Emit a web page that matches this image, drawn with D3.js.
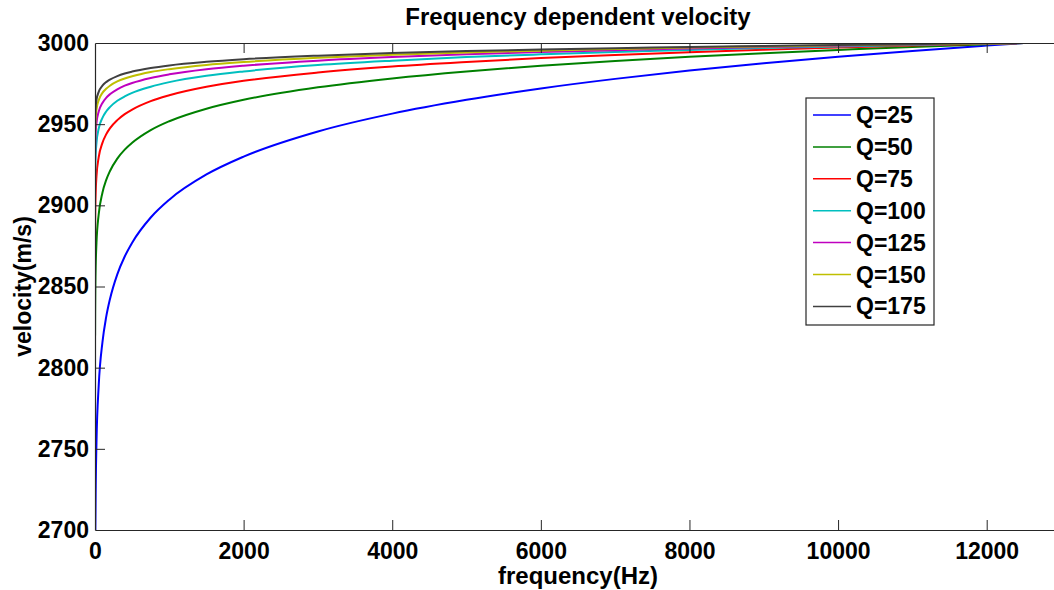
<!DOCTYPE html>
<html>
<head>
<meta charset="utf-8">
<script src="https://cdn.jsdelivr.net/npm/d3@7"></script>
<style>
  body { margin: 0; background: #fff; }
  text { font-family: "Liberation Sans", Arial, sans-serif; font-weight: bold; }
</style>
</head>
<body>
<div id="chart"></div>
<script>
// frequency samples (Hz) shared by every curve
const freqs = [1, 2, 5, 10, 20, 50, 100, 150, 200, 300, 400, 500, 750, 1000, 1500, 2000,
  3000, 4000, 5000, 6000, 7000, 8000, 9000, 10000, 11000, 12000, 12500];

const q25 = [2639.7, 2666.1, 2701.1, 2727.6, 2754.1, 2789.1, 2815.6, 2831.1, 2842.0, 2857.5, 2868.5, 2877.0, 2892.5, 2903.5, 2919.0, 2930.0,
  2945.5, 2956.5, 2965.0, 2972.0, 2977.9, 2983.0, 2987.5, 2991.5, 2995.1, 2998.4, 3000];
const q50 = [2819.8, 2833.1, 2850.6, 2863.8, 2877.0, 2894.5, 2907.8, 2915.5, 2921.0, 2928.8, 2934.3, 2938.5, 2946.3, 2951.8, 2959.5, 2965.0,
  2972.7, 2978.2, 2982.5, 2986.0, 2988.9, 2991.5, 2993.7, 2995.7, 2997.6, 2999.2, 3000];
const q75 = [2879.9, 2888.7, 2900.4, 2909.2, 2918.0, 2929.7, 2938.5, 2943.7, 2947.4, 2952.5, 2956.2, 2959.0, 2964.2, 2967.8, 2973.0, 2976.7,
  2981.8, 2985.5, 2988.3, 2990.7, 2992.6, 2994.3, 2995.8, 2997.2, 2998.4, 2999.5, 3000];
const q100 = [2909.9, 2916.5, 2925.3, 2931.9, 2938.5, 2947.3, 2953.9, 2957.8, 2960.5, 2964.4, 2967.1, 2969.3, 2973.1, 2975.9, 2979.8, 2982.5,
  2986.4, 2989.1, 2991.3, 2993.0, 2994.5, 2995.7, 2996.9, 2997.9, 2998.8, 2999.6, 3000];
const q125 = [2927.9, 2933.2, 2940.2, 2945.5, 2950.8, 2957.8, 2963.1, 2966.2, 2968.4, 2971.5, 2973.7, 2975.4, 2978.5, 2980.7, 2983.8, 2986.0,
  2989.1, 2991.3, 2993.0, 2994.4, 2995.6, 2996.6, 2997.5, 2998.3, 2999.0, 2999.7, 3000];
const q150 = [2939.9, 2944.4, 2950.2, 2954.6, 2959.0, 2964.8, 2969.3, 2971.8, 2973.7, 2976.3, 2978.1, 2979.5, 2982.1, 2983.9, 2986.5, 2988.3,
  2990.9, 2992.7, 2994.2, 2995.3, 2996.3, 2997.2, 2997.9, 2998.6, 2999.2, 2999.7, 3000];
const q175 = [2948.5, 2952.3, 2957.3, 2961.1, 2964.9, 2969.9, 2973.7, 2975.9, 2977.4, 2979.6, 2981.2, 2982.4, 2984.6, 2986.2, 2988.4, 2990.0,
  2992.2, 2993.8, 2995.0, 2996.0, 2996.8, 2997.6, 2998.2, 2998.8, 2999.3, 2999.8, 3000];

const seriesNames = ['Q=25', 'Q=50', 'Q=75', 'Q=100', 'Q=125', 'Q=150', 'Q=175'];
const seriesValues = [q25, q50, q75, q100, q125, q150, q175];
const seriesColors = ['#0000ff', '#008000', '#ff0000', '#00bfbf', '#bf00bf', '#bfbf00', '#404040'];

const xTicks = [0, 2000, 4000, 6000, 8000, 10000, 12000];
const yTicks = [2700, 2750, 2800, 2850, 2900, 2950, 3000];

const width = 1054, height = 590;
const margin = { top: 43, right: -7, bottom: 60, left: 95 };
const chartWidth = width - margin.left - margin.right;
const chartHeight = height - margin.top - margin.bottom;

const svg = d3.select('#chart').append('svg')
  .attr('width', width)
  .attr('height', height);

const g = svg.append('g')
  .attr('transform', `translate(${margin.left},${margin.top})`);

const x = d3.scaleLinear().domain([0, 13000]).range([0, chartWidth]);
const y = d3.scaleLinear().domain([2700, 3000]).range([chartHeight, 0]);

svg.append('defs').append('clipPath')
  .attr('id', 'plot-clip')
  .append('rect')
  .attr('width', chartWidth)
  .attr('height', chartHeight);

const line = d3.line()
  .x((d, i) => x(freqs[i]))
  .y(d => y(d))
  .curve(d3.curveMonotoneX);

const plot = g.append('g').attr('clip-path', 'url(#plot-clip)');

// axes box first so the curves sit on top of it
const bottomAxis = g.append('g')
  .attr('transform', `translate(0,${chartHeight})`)
  .call(d3.axisBottom(x).tickValues(xTicks).tickFormat(d3.format('d'))
    .tickSizeInner(-10).tickSizeOuter(0).tickPadding(13));
const topAxis = g.append('g')
  .call(d3.axisTop(x).tickValues(xTicks).tickSizeInner(-10).tickSizeOuter(0).tickFormat(''));
const leftAxis = g.append('g')
  .call(d3.axisLeft(y).tickValues(yTicks).tickFormat(d3.format('d'))
    .tickSizeInner(-10).tickSizeOuter(0).tickPadding(6));

[bottomAxis, topAxis, leftAxis].forEach(a => {
  a.select('.domain').attr('stroke', '#262626').attr('stroke-width', 1.2);
  a.selectAll('.tick line').attr('stroke', '#262626');
  a.selectAll('.tick text').attr('fill', '#000').style('font-size', '23px');
});
topAxis.selectAll('.tick').filter(d => d === 0).remove();
bottomAxis.selectAll('.tick line').filter(d => d === 0).remove();
leftAxis.selectAll('.tick line').filter(d => d === 2700 || d === 3000).remove();

seriesValues.forEach((vals, i) => {
  plot.append('path')
    .datum(vals)
    .attr('fill', 'none')
    .attr('stroke', seriesColors[i])
    .attr('stroke-width', 2)
    .attr('d', line);
});

// title and axis labels
svg.append('text')
  .attr('x', margin.left + chartWidth / 2)
  .attr('y', 25)
  .attr('text-anchor', 'middle')
  .style('font-size', '24px')
  .text('Frequency dependent velocity');

svg.append('text')
  .attr('x', margin.left + chartWidth / 2)
  .attr('y', 584)
  .attr('text-anchor', 'middle')
  .style('font-size', '24px')
  .text('frequency(Hz)');

svg.append('text')
  .attr('transform', `translate(31,${margin.top + chartHeight / 2}) rotate(-90)`)
  .attr('text-anchor', 'middle')
  .style('font-size', '23px')
  .text('velocity(m/s)');

// legend
const legend = svg.append('g').attr('transform', 'translate(806,98)');
legend.append('rect')
  .attr('width', 128)
  .attr('height', 227)
  .attr('fill', '#fff')
  .attr('stroke', '#262626')
  .attr('stroke-width', 1.2);
seriesNames.forEach((name, i) => {
  const ly = 17 + i * 31.9;
  legend.append('line')
    .attr('x1', 7).attr('x2', 45)
    .attr('y1', ly).attr('y2', ly)
    .attr('stroke', seriesColors[i])
    .attr('stroke-width', 1.5);
  legend.append('text')
    .attr('x', 50).attr('y', ly)
    .attr('dominant-baseline', 'central')
    .style('font-size', '23px')
    .text(name);
});
</script>
</body>
</html>
